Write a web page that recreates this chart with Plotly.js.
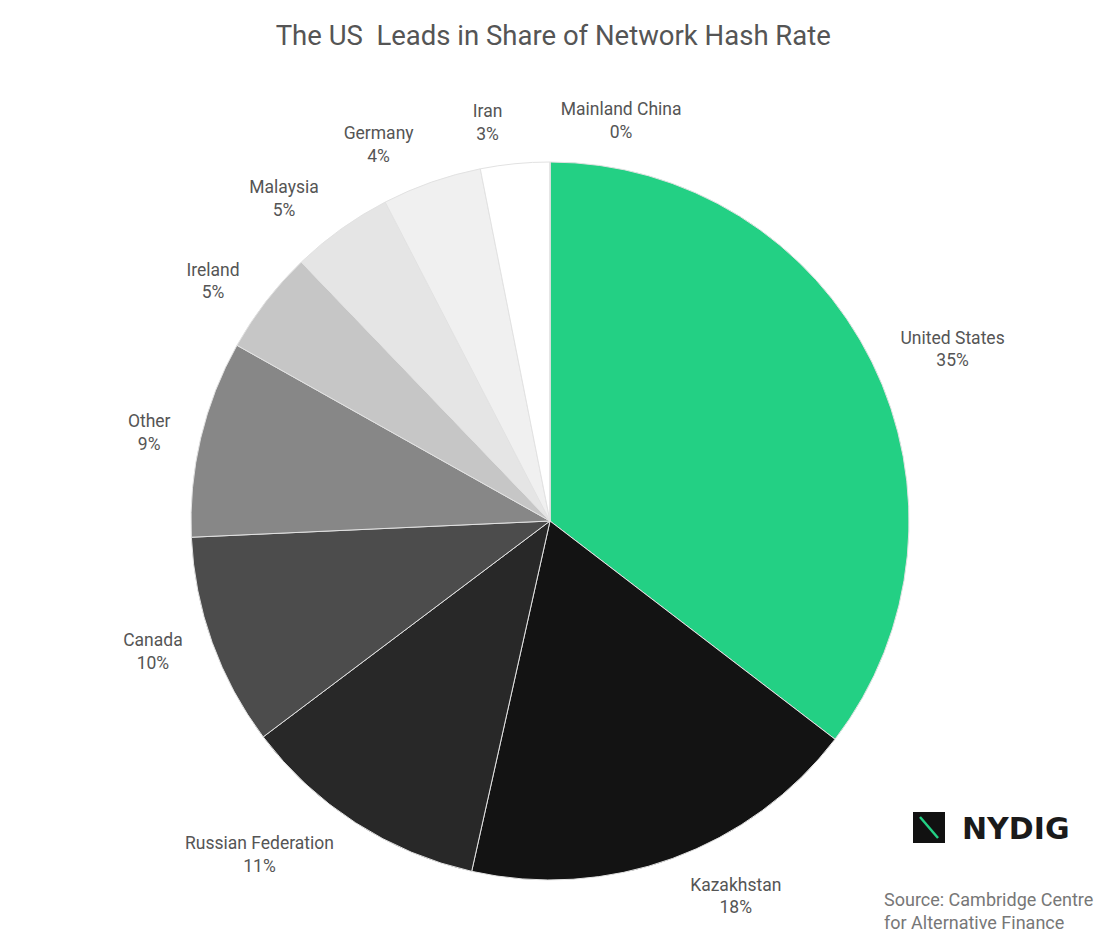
<!DOCTYPE html>
<html>
<head>
<meta charset="utf-8">
<script src="https://cdn.plot.ly/plotly-3.0.1.min.js"></script>
<style>html,body{margin:0;padding:0;background:#fff;}#chart{width:1120px;height:951px;}</style>
</head>
<body>
<div id="chart"></div>
<script>
const countries = ["United States","Kazakhstan","Russian Federation","Canada","Other","Ireland","Malaysia","Germany","Iran","Mainland China"];
const shares = [35.4, 18.1, 11.23, 9.55, 8.86, 4.68, 4.59, 4.48, 3.11, 0];
const sliceColors = ["#23d084","#131313","#282828","#4c4c4c","#878787","#c6c6c6","#e5e5e5","#f0f0f0","#ffffff","#ffffff"];

const W = 1120, H = 951;
const cx = 550, cy = 521, R = 359;
function dom(cx, cy, r){
  return {x:[(cx-r)/W,(cx+r)/W], y:[(H-cy-r)/H,(H-cy+r)/H]};
}
const font = "Roboto, 'DejaVu Sans', sans-serif";
const tmpl = "%{label}<br>%{percent:.0%}";
const iranIdx = countries.indexOf("Iran");
const chinaIdx = countries.indexOf("Mainland China");

const pie = {
  type:"pie", values:shares, labels:countries, sort:false, direction:"clockwise", rotation:0,
  marker:{colors:sliceColors, line:{color:"#e2e2e2", width:1}},
  textinfo:"none", hoverinfo:"label+percent", showlegend:false, domain:dom(cx,cy,R)
};
// transparent overlay pies carry the outside labels (split into groups so Plotly does not shift them)
function labelPie(showIdx){
  return {
    type:"pie", values:shares, labels:countries, sort:false, direction:"clockwise", rotation:0,
    marker:{colors:countries.map(()=> "rgba(0,0,0,0)"), line:{width:0}},
    texttemplate:countries.map((c,i)=> showIdx(i) ? tmpl : ""), textposition:"outside",
    outsidetextfont:{family:font, size:17.5, color:"#555"},
    hoverinfo:"skip", showlegend:false, domain:dom(cx,cy,R+20)
  };
}

const layout = {
  width:W, height:H, margin:{l:0,r:0,t:0,b:0}, paper_bgcolor:"#fff",
  title:{text:"The US  Leads in Share of Network Hash Rate", x:0.494, xanchor:"center", y:1-35/H, yanchor:"middle",
         font:{family:font, size:27.5, color:"#555"}},
  shapes:[
    {type:"rect", xref:"paper", yref:"paper", x0:913/W, x1:945/W, y0:1-843/H, y1:1-812/H, fillcolor:"#111", line:{width:0}},
    {type:"line", xref:"paper", yref:"paper", x0:920/W, x1:938/W, y0:1-817/H, y1:1-838/H, line:{color:"#23d084", width:2.5}}
  ],
  annotations:[
    {text:"<b>NYDIG</b>", xref:"paper", yref:"paper", x:960/W, y:1-828/H, xanchor:"left", yanchor:"middle", showarrow:false,
     font:{family:"'DejaVu Sans', sans-serif", size:30, color:"#1a1a1a"}},
    {text:"Source: Cambridge Centre<br>for Alternative Finance", xref:"paper", yref:"paper", x:882/W, y:1-911/H, xanchor:"left", yanchor:"middle", align:"left", showarrow:false,
     font:{family:font, size:18, color:"#777"}}
  ]
};
Plotly.newPlot("chart", [
  pie,
  labelPie(i => i !== iranIdx && i !== chinaIdx),
  labelPie(i => i === iranIdx),
  labelPie(i => i === chinaIdx)
], layout, {displayModeBar:false, staticPlot:true});
</script>
</body>
</html>
